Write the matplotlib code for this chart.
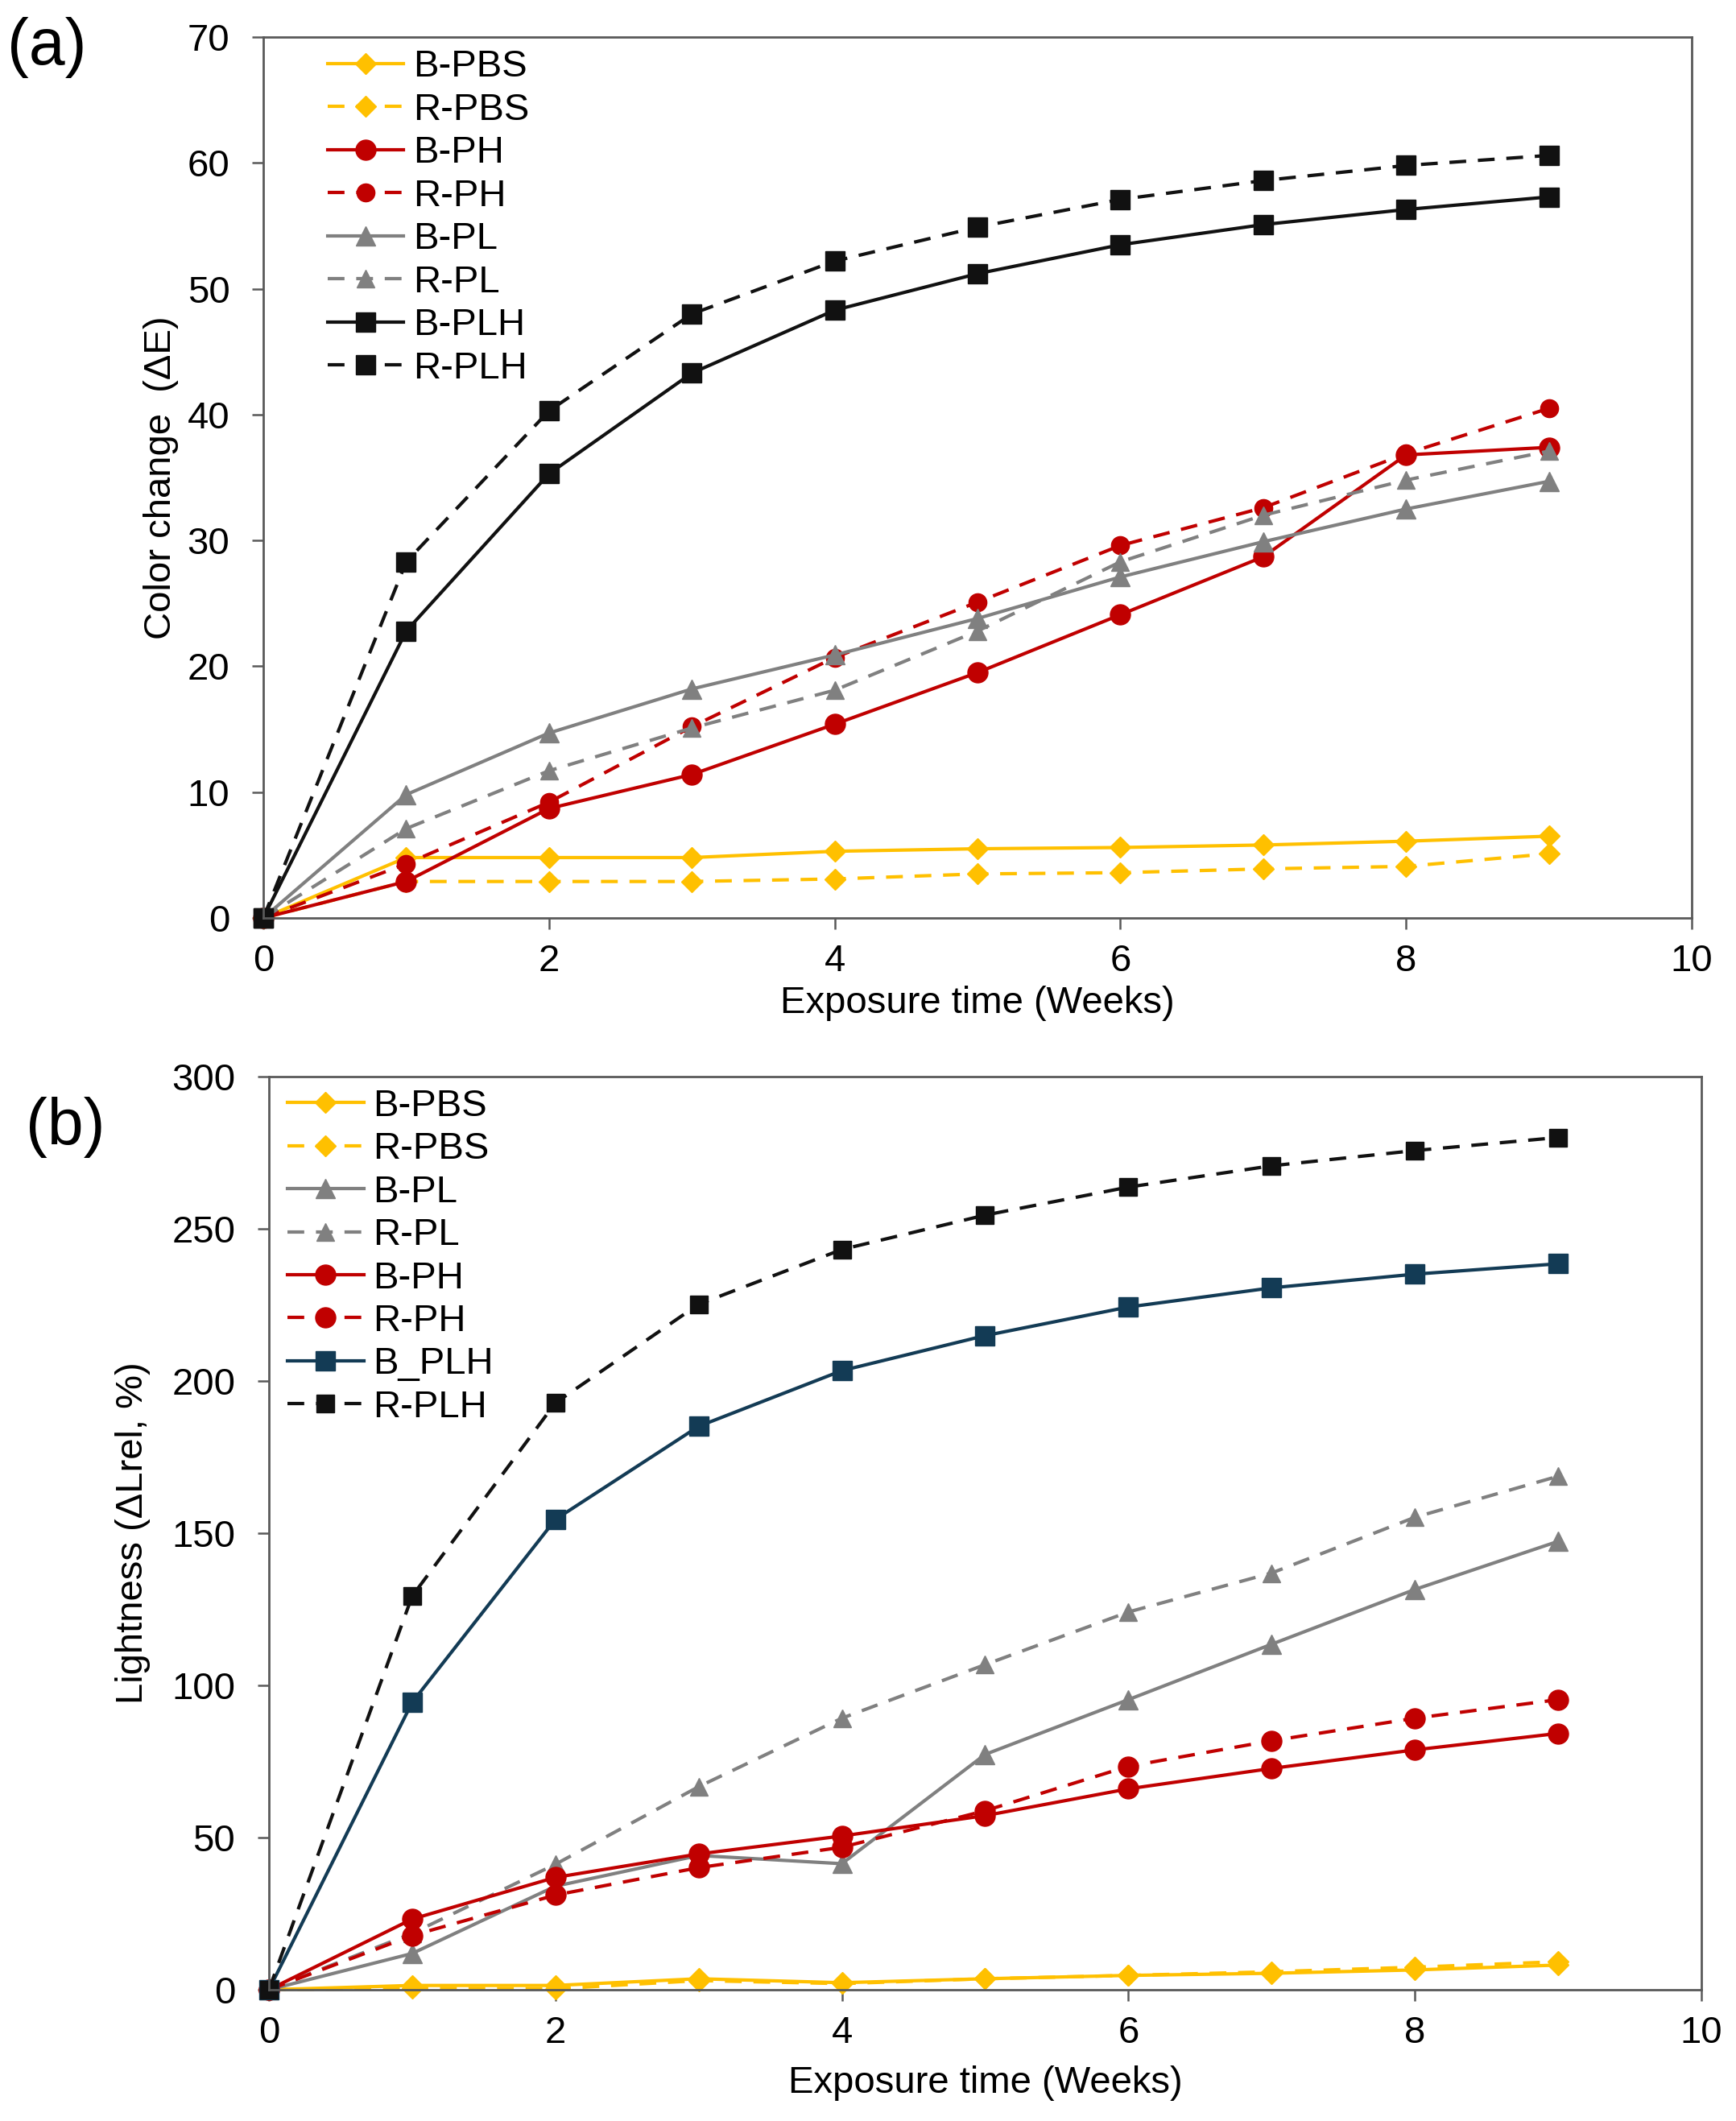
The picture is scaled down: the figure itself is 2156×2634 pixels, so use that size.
import matplotlib
matplotlib.use("Agg")
import matplotlib.pyplot as plt

plt.rcParams['font.family'] = ['Liberation Sans', 'DejaVu Sans']

weeks = [0, 1, 2, 3, 4, 5, 6, 7, 8, 9]

# Panel (a): colour change (Delta E)
a_B_PBS = [0, 4.8, 4.8, 4.8, 5.3, 5.5, 5.6, 5.8, 6.1, 6.5]
a_R_PBS = [0, 2.9, 2.9, 2.9, 3.1, 3.5, 3.6, 3.9, 4.1, 5.1]
a_B_PH = [0, 2.9, 8.7, 11.4, 15.4, 19.5, 24.1, 28.7, 36.8, 37.4]
a_R_PH = [0, 4.3, 9.2, 15.2, 20.7, 25.1, 29.6, 32.6, 36.9, 40.5]
a_B_PL = [0, 9.8, 14.7, 18.2, 20.9, 23.8, 27.1, 29.9, 32.5, 34.7]
a_R_PL = [0, 7.1, 11.7, 15.1, 18.1, 22.8, 28.3, 32.0, 34.8, 37.1]
a_B_PLH = [0, 22.8, 35.3, 43.3, 48.3, 51.2, 53.5, 55.1, 56.3, 57.3]
a_R_PLH = [0, 28.3, 40.3, 48.0, 52.2, 54.9, 57.1, 58.6, 59.8, 60.6]

# Panel (b): lightness (Delta L rel, %)
b_B_PBS = [0, 1.4, 1.4, 3.6, 2.3, 3.6, 4.7, 5.4, 6.5, 8.1]
b_R_PBS = [0, 0.5, 0.3, 3.0, 2.0, 3.6, 4.7, 5.9, 7.4, 9.2]
b_B_PL = [0, 11.9, 34.0, 44.1, 41.4, 77.3, 95.3, 113.5, 131.5, 147.3]
b_R_PL = [0, 18.5, 41.2, 66.7, 89.2, 106.8, 124.1, 136.9, 155.2, 168.7]
b_B_PH = [0, 23.2, 36.9, 44.6, 50.5, 57.2, 66.0, 72.7, 78.8, 84.2]
b_R_PH = [0, 17.8, 31.1, 40.1, 46.8, 58.8, 73.4, 81.8, 89.2, 95.3]
b_B_PLH = [0, 94.4, 154.5, 185.1, 203.4, 214.9, 224.3, 230.6, 235.1, 238.5]
b_R_PLH = [0, 129.3, 192.8, 225.2, 243.2, 254.5, 263.7, 270.7, 275.7, 280.0]

xticks = [0, 2, 4, 6, 8, 10]
a_yticks = [0, 10, 20, 30, 40, 50, 60, 70]
b_yticks = [0, 50, 100, 150, 200, 250, 300]

YEL = '#FFC000'
RED = '#C00000'
GRY = '#808080'
BLK = '#111111'
NAVY = '#133B55'

FS = 34
LW = 3.0
DASH = (5.0, 3.5)

fig = plt.figure(figsize=(21.56, 26.34), dpi=100)
axa = fig.add_axes([0.1517, 0.5672, 0.8228, 0.4153])
axb = fig.add_axes([0.1549, 0.0619, 0.8251, 0.4305])


def series(ax, y, color, marker, ms, dashed, label):
    kw = dict(color=color, lw=LW, marker=marker, ms=ms, mfc=color, mec=color,
              label=label, clip_on=False)
    if dashed:
        kw['dashes'] = DASH
    ax.plot(weeks, y, **kw)


spec_a = [
    (a_B_PBS, YEL, 'D', 13, False, 'B-PBS'),
    (a_R_PBS, YEL, 'D', 13, True, 'R-PBS'),
    (a_B_PH, RED, 'o', 18, False, 'B-PH'),
    (a_R_PH, RED, 'o', 16, True, 'R-PH'),
    (a_B_PL, GRY, '^', 17, False, 'B-PL'),
    (a_R_PL, GRY, '^', 16, True, 'R-PL'),
    (a_B_PLH, BLK, 's', 17, False, 'B-PLH'),
    (a_R_PLH, BLK, 's', 17, True, 'R-PLH'),
]
for s in spec_a:
    series(axa, *s)

spec_b = [
    (b_B_PBS, YEL, 'D', 13, False, 'B-PBS'),
    (b_R_PBS, YEL, 'D', 13, True, 'R-PBS'),
    (b_B_PL, GRY, '^', 17, False, 'B-PL'),
    (b_R_PL, GRY, '^', 16, True, 'R-PL'),
    (b_B_PH, RED, 'o', 18, False, 'B-PH'),
    (b_R_PH, RED, 'o', 18, True, 'R-PH'),
    (b_B_PLH, NAVY, 's', 17, False, 'B_PLH'),
    (b_R_PLH, BLK, 's', 16, True, 'R-PLH'),
]
for s in spec_b:
    series(axb, *s)

for ax, yt, ylab, ylp, xlp in [(axa, a_yticks, 'Color change  (ΔE)', 8, 6),
                               (axb, b_yticks, 'Lightness (ΔLrel, %)', 19, 13)]:
    ax.set_xlim(0, 10)
    ax.set_ylim(yt[0], yt[-1])
    ax.set_xticks(xticks)
    ax.set_yticks(yt)
    ax.tick_params(direction='out', length=10, width=1.8, color='#595959',
                   labelsize=FS)
    ax.tick_params(axis='x', pad=13)
    ax.tick_params(axis='y', pad=20)
    for sp in ax.spines.values():
        sp.set_color('#595959')
        sp.set_linewidth(2)
    ax.set_xlabel('Exposure time (Weeks)', fontsize=FS, labelpad=xlp)
    ax.set_ylabel(ylab, fontsize=FS, labelpad=ylp)

axa.legend(loc='upper left', bbox_to_anchor=(0.045, 0.986), frameon=False,
           fontsize=FS, borderpad=0, borderaxespad=0, labelspacing=0.2,
           handlelength=2.0, handletextpad=0.25)
axb.legend(loc='upper left', bbox_to_anchor=(0.013, 0.987), frameon=False,
           fontsize=FS, borderpad=0, borderaxespad=0, labelspacing=0.2,
           handlelength=2.0, handletextpad=0.25)

fig.text(0.004, 0.992, '(a)', fontsize=58, va='top', ha='left')
fig.text(0.015, 0.483, '(b)', fontsize=58, va='top', ha='left')

fig.savefig('out.png', dpi=100)
